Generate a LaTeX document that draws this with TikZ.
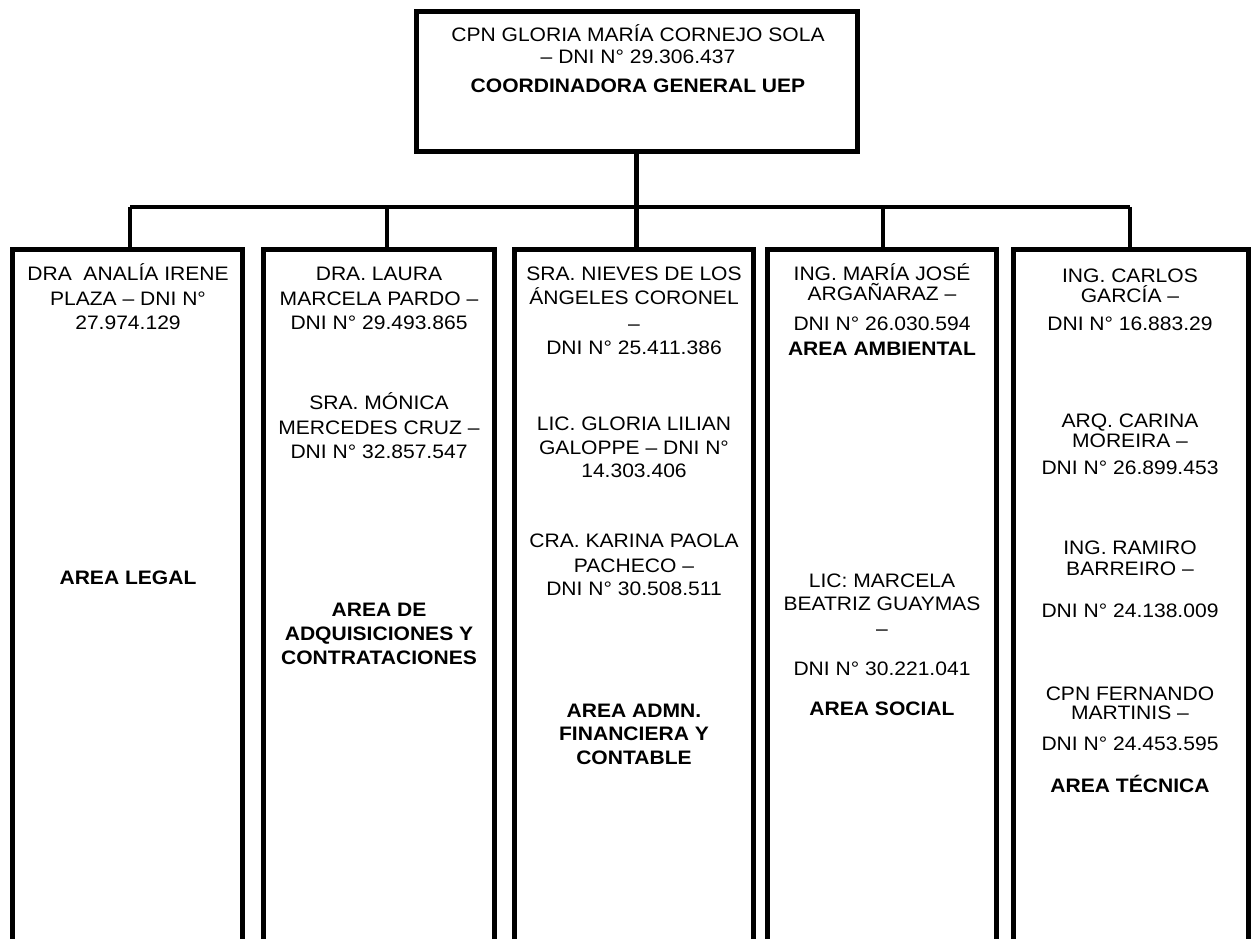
\documentclass[tikz,border=0pt]{standalone}
\usepackage{fontspec}
\setmainfont{Liberation Sans}[FakeStretch=1.08]
\begin{document}
\begin{tikzpicture}[x=1pt,y=-1pt,
  box/.style={draw=black, line width=5pt, inner sep=0pt, fill=white},
  conn/.style={draw=black, line width=4.5pt},
  txt/.style={inner sep=0pt, text height=14pt, text depth=0pt, font=\fontsize{19.5}{23}\selectfont}]
\useasboundingbox (0,0) rectangle (1254,939);
\fill[white] (0,0) rectangle (1254,939);
\clip (0,0) rectangle (1254,939);
% boxes
\node[box, minimum width=441pt, minimum height=140pt] (top) at (636.5,82) {};
\node[box, minimum width=230pt, minimum height=695pt] (b1) at (127,596.5) {};
\node[box, minimum width=231pt, minimum height=695pt] (b2) at (378.5,596.5) {};
\node[box, minimum width=239pt, minimum height=695pt] (b3) at (633.5,596.5) {};
\node[box, minimum width=229pt, minimum height=695pt] (b4) at (881.5,596.5) {};
\node[box, minimum width=235pt, minimum height=695pt] (b5) at (1130.5,596.5) {};
% connectors
\coordinate (j1) at (130,207);
\coordinate (j2) at (387,207);
\coordinate (j4) at (883,207);
\coordinate (j5) at (1130,207);
\draw[conn] (j1) -- (j5);
\draw[conn] (top.south) -- (top.south |- b3.north);
\draw[conn] (j1) -- (j1 |- b1.north);
\draw[conn] (j2) -- (j2 |- b2.north);
\draw[conn] (j4) -- (j4 |- b4.north);
\draw[conn] (j5) -- (j5 |- b5.north);
% top text
\node[txt] (t0a) at (638,35) {CPN GLORIA MARÍA CORNEJO SOLA};
\node[txt] (t0b) at (638,57) {– DNI N° 29.306.437};
\node[txt] (t0c) at (638,86) {\textbf{COORDINADORA GENERAL UEP}};
% column 1
\foreach \y/\t [count=\i] in {273/DRA\ \ ANALÍA IRENE, 298/PLAZA – DNI N°, 322/27.974.129, 577/\textbf{AREA LEGAL}}
  \node[txt] (c1-\i) at (128,\y) {\t};
% column 2
\foreach \y/\t [count=\i] in {273/DRA. LAURA, 298/MARCELA PARDO –, 322/DNI N° 29.493.865,
  402/SRA. MÓNICA, 427/MERCEDES CRUZ –, 451/DNI N° 32.857.547,
  609/\textbf{AREA DE}, 633/\textbf{ADQUISICIONES Y}, 657/\textbf{CONTRATACIONES}}
  \node[txt] (c2-\i) at (379,\y) {\t};
% column 3
\foreach \y/\t [count=\i] in {273/SRA. NIEVES DE LOS, 297/ÁNGELES CORONEL, 323/–, 347/DNI N° 25.411.386,
  423/LIC. GLORIA LILIAN, 447/GALOPPE – DNI N°, 470/14.303.406,
  540/CRA. KARINA PAOLA, 565/PACHECO –, 588/DNI N° 30.508.511,
  710/\textbf{AREA ADMN.}, 733/\textbf{FINANCIERA Y}, 757/\textbf{CONTABLE}}
  \node[txt] (c3-\i) at (634,\y) {\t};
% column 4
\foreach \y/\t [count=\i] in {273/ING. MARÍA JOSÉ, 293/ARGAÑARAZ –, 323/DNI N° 26.030.594, 348/\textbf{AREA AMBIENTAL},
  580/LIC: MARCELA, 603/BEATRIZ GUAYMAS, 628/–, 668/DNI N° 30.221.041, 708/\textbf{AREA SOCIAL}}
  \node[txt] (c4-\i) at (882,\y) {\t};
% column 5
\foreach \y/\t [count=\i] in {275/ING. CARLOS, 295/GARCÍA –, 323/DNI N° 16.883.29,
  420/ARQ. CARINA, 440/MOREIRA –, 467/DNI N° 26.899.453,
  547/ING. RAMIRO, 568/BARREIRO –, 610/DNI N° 24.138.009,
  693/CPN FERNANDO, 712/MARTINIS –, 743/DNI N° 24.453.595, 785/\textbf{AREA TÉCNICA}}
  \node[txt] (c5-\i) at (1130,\y) {\t};
\end{tikzpicture}
\end{document}
